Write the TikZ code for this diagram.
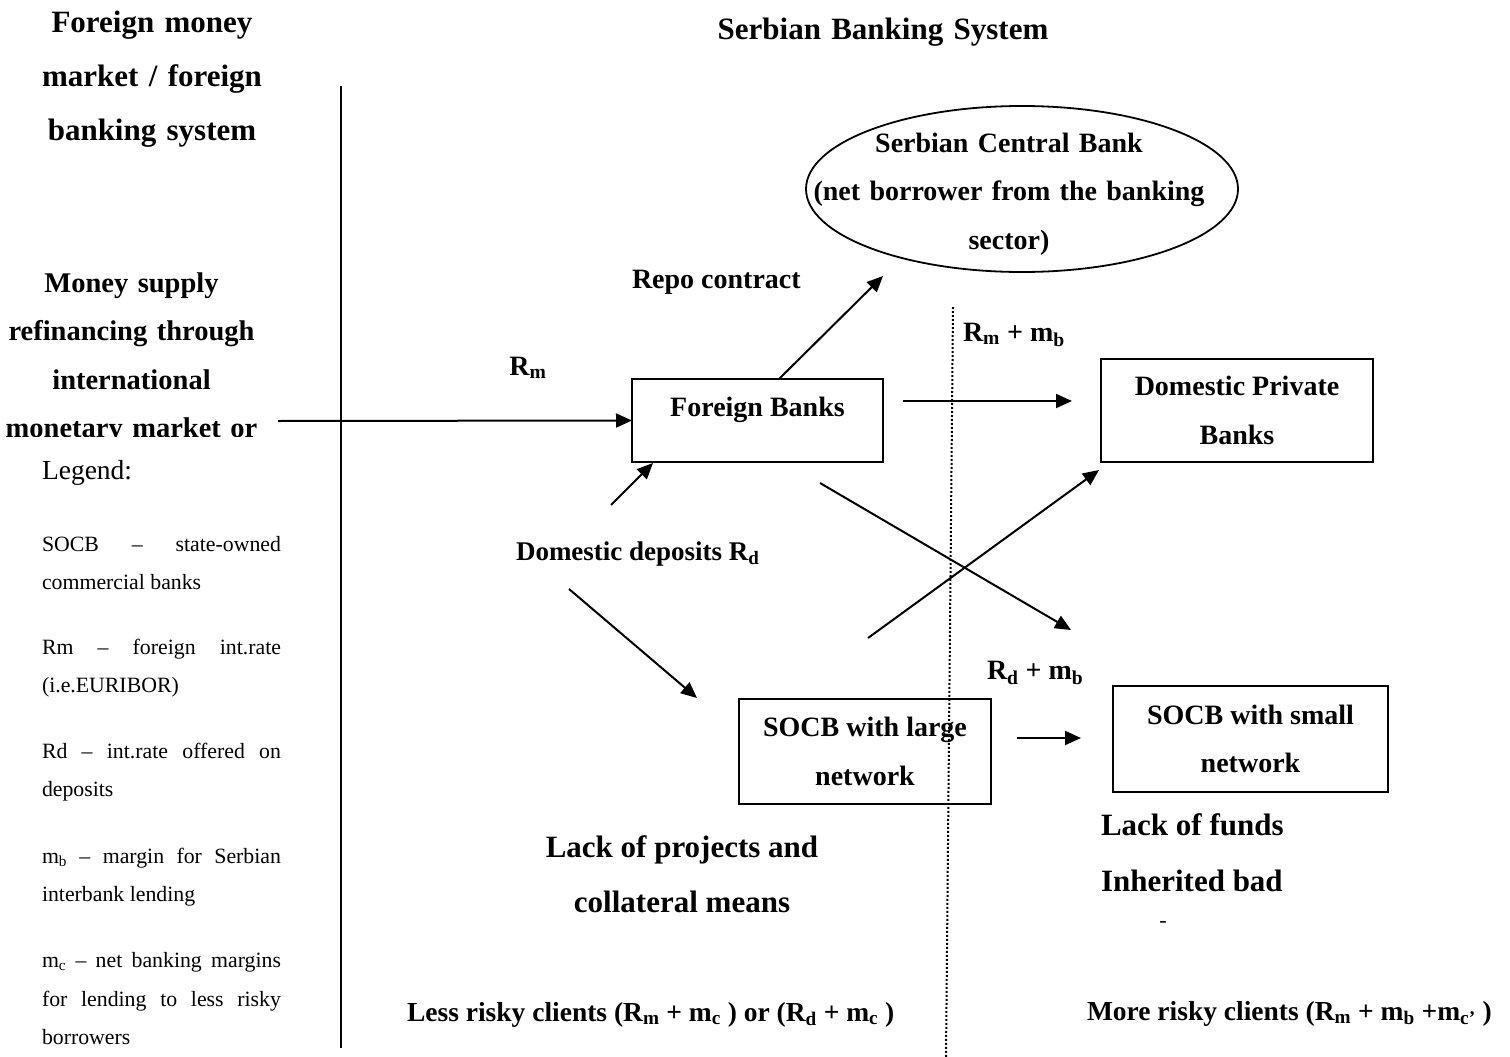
\documentclass[tikz,border=0pt]{standalone}
\usepackage{fontspec}
\setmainfont{Liberation Serif}
\usetikzlibrary{arrows.meta,shapes.geometric}
\newcommand{\sbx}[1]{\textsubscript{#1}}
\newcommand{\legset}{\hyphenpenalty=10000\relax\exhyphenpenalty=10000\relax\tolerance=10000\relax\emergencystretch=20pt\relax}
\begin{document}
\begin{tikzpicture}[x=1pt,y=-1pt,
  every node/.style={inner sep=0pt, outer sep=0pt},
  hd/.style={font=\fontsize{31}{54}\selectfont\bfseries, text width=340pt, align=center, anchor=base},
  lc/.style={font=\fontsize{28.5}{48.3}\selectfont\bfseries, text width=300pt, align=center, anchor=base},
  bt/.style={font=\fontsize{28}{48.7}\selectfont\bfseries},
  bx/.style={draw, line width=1.8pt, bt, align=center},
  lack/.style={font=\fontsize{31}{55}\selectfont\bfseries},
  bot/.style={font=\fontsize{27.5}{30}\selectfont\bfseries, anchor=base west},
  leg/.style={font=\fontsize{21.8}{38.5}\selectfont, execute at begin node=\legset,
    text width=239pt, align=justify, anchor=base west},
  arr/.style={-{Triangle[length=16pt,width=14pt]}, line width=2pt},
  sep/.style={line width=2pt},
  dot/.style={line width=2pt, dash pattern=on 2pt off 2pt}
]
\useasboundingbox (0,0) rectangle (1510,1057);

% headings
\node[hd] (hleft) at (152,33) {Foreign money\\market / foreign\\banking system};
\node[hd, text width=500pt] (hright) at (883,40) {Serbian Banking System};

% left column text (clipped)
\begin{scope}
\clip (0,0) rectangle (335,436);
\node[lc] (supply) at (131.5,292.5) {Money supply\\refinancing through\\international\\monetary market or};
\end{scope}

% separators
\coordinate (vt) at (341,86);
\coordinate (vb) at (341,1048);
\draw[sep] (vt) -- (vb);
\coordinate (dt) at (953,307);
\coordinate (db) at (946,1057);
\draw[dot] (dt) -- (db);

% legend
\node[font=\fontsize{27.5}{33}\selectfont, anchor=base west] (lg) at (42,479) {Legend:};
\node[leg] (l1) at (42,551) {SOCB – state-owned\linebreak commercial banks};
\node[leg] (l2) at (42,654) {Rm – foreign int.rate\linebreak (i.e.EURIBOR)};
\node[leg] (l3) at (42,758) {Rd – int.rate offered on\linebreak deposits};
\node[leg] (l4) at (42,863) {m\sbx{b} – margin for Serbian\linebreak interbank lending};
\node[leg] (l5) at (42,967.5) {m\sbx{c} – net banking margins\linebreak for lending to less risky\linebreak borrowers};

% central bank
\node[draw, ellipse, line width=1.8pt, minimum width=432pt, minimum height=166pt] (scb) at (1022,189) {};
\node[bt, text width=420pt, align=center, anchor=base] (scbt) at (1009,152) {Serbian Central Bank\\(net borrower from the banking\\sector)};

% boxes
\node[bx, minimum width=251pt, minimum height=83pt, text height=20pt, text depth=29pt] (fb) at (757.5,420.5) {Foreign Banks};
\node[bx, minimum width=272pt, minimum height=103pt] (dpb) at (1237,410.5) {Domestic Private\\Banks};
\node[bx, minimum width=252pt, minimum height=105pt] (sl) at (865,751.5) {SOCB with large\\network};
\node[bx, minimum width=275pt, minimum height=106pt] (ss) at (1250.5,739) {SOCB with small\\network};

% labels
\node[bt, anchor=base] (rm) at (528,375) {R\sbx{m}};
\node[bt, anchor=base west] (repo) at (632,288) {Repo contract};
\node[bt, anchor=base west] (rmmb) at (963,341) {R\sbx{m} + m\sbx{b}};
\node[bt, font=\fontsize{27}{40}\selectfont\bfseries, anchor=base west] (dd) at (516,560) {Domestic deposits R\sbx{d}};
\node[bt, anchor=base west] (rdmb) at (987,679) {R\sbx{d} + m\sbx{b}};
\node[lack, anchor=base] (lp1) at (682,857) {Lack of projects and};
\node[lack, anchor=base] (lp2) at (682,912) {collateral means};
\node[lack, anchor=base west] (lf1) at (1101,835) {Lack of funds};
\node[lack, anchor=base west] (lf2) at (1101,891) {Inherited bad};
\node[font=\fontsize{22}{26}\selectfont, anchor=center] (dash) at (1163,924) {-};
\node[bot] (less) at (407,1021) {Less risky clients (R\sbx{m} + m\sbx{c} ) or (R\sbx{d} + m\sbx{c} )};
\node[bot] (more) at (1087,1020) {More risky clients (R\sbx{m} + m\sbx{b} +m\sbx{c’} )};

% connectors
\coordinate (inL) at (278,421);
\draw[arr] (inL) -- (fb.west);
\coordinate (repoS) at (779,379);
\coordinate (repoE) at (883,276);
\draw[arr] (repoS) -- (repoE);
\coordinate (lendS) at (903,401);
\coordinate (lendE) at (1072,401);
\draw[arr] (lendS) -- (lendE);
\coordinate (depUS) at (611,505);
\coordinate (depUE) at (653,463);
\draw[arr] (depUS) -- (depUE);
\coordinate (depDS) at (569,589);
\coordinate (depDE) at (697,698);
\draw[arr] (depDS) -- (depDE);
\coordinate (x1S) at (820,483);
\coordinate (x1E) at (1071,630);
\draw[arr] (x1S) -- (x1E);
\coordinate (x2S) at (868,638);
\coordinate (x2E) at (1099,470);
\draw[arr] (x2S) -- (x2E);
\coordinate (smS) at (1017,738);
\coordinate (smE) at (1081,738);
\draw[arr] (smS) -- (smE);
\end{tikzpicture}
\end{document}
